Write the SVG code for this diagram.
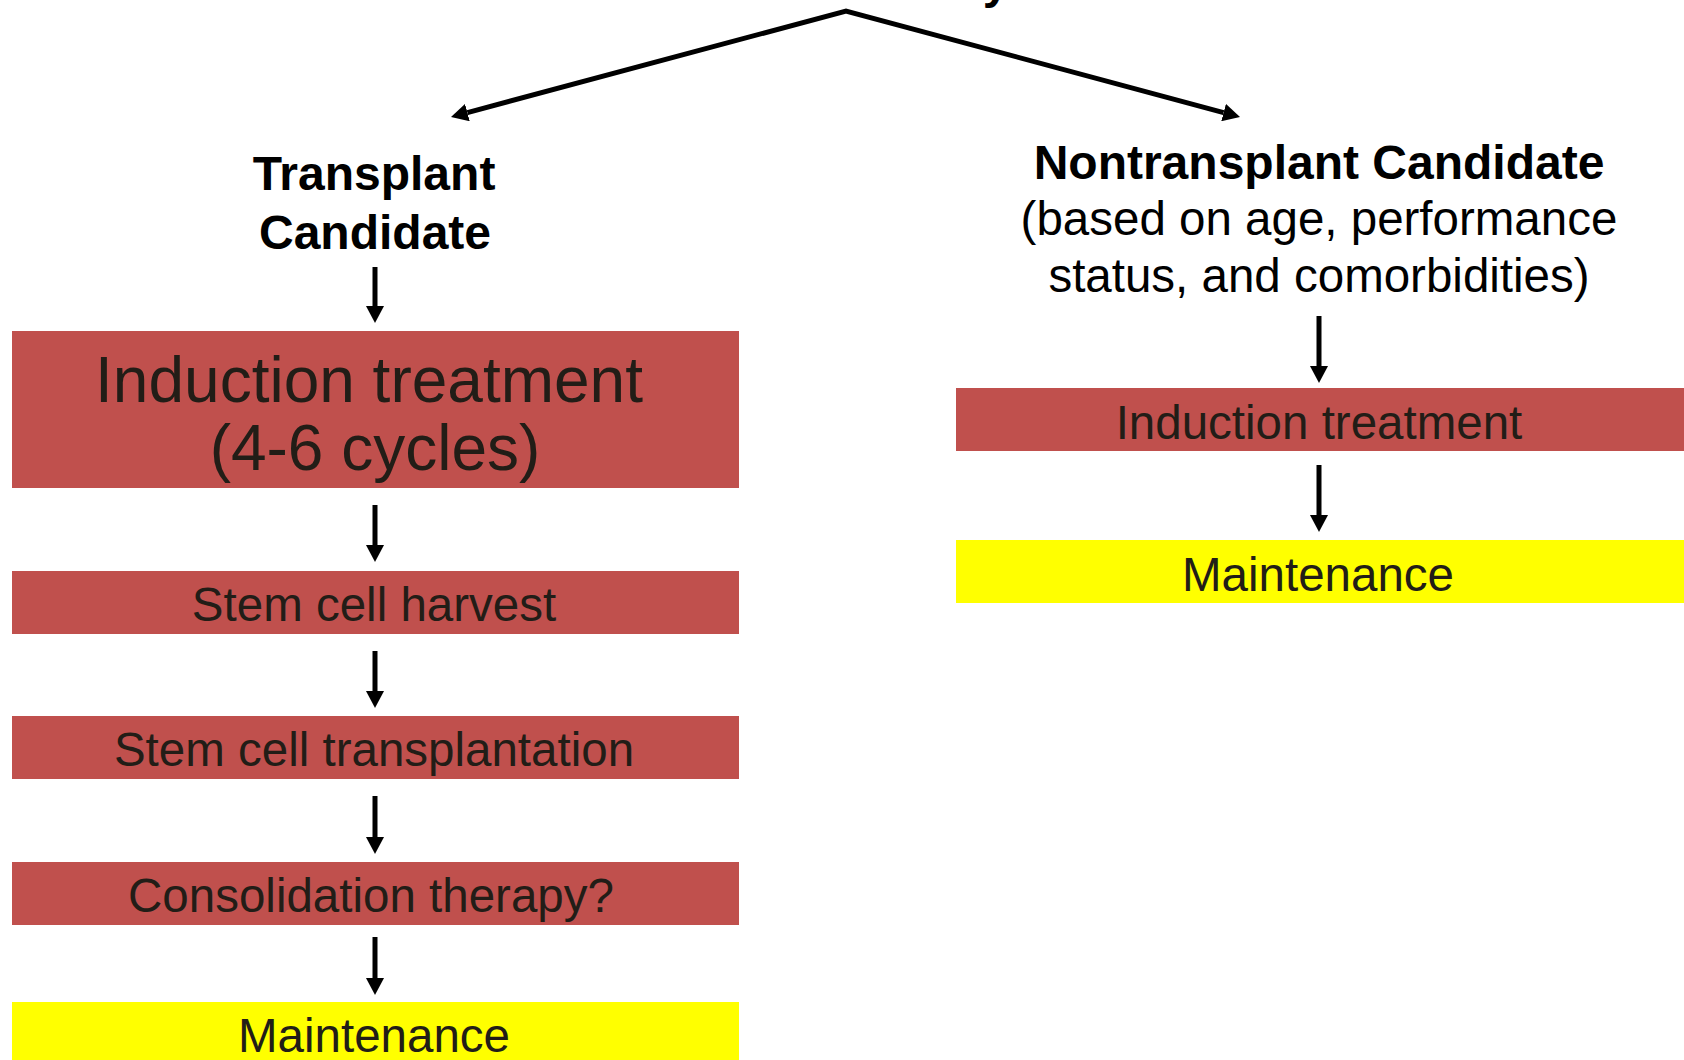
<svg xmlns="http://www.w3.org/2000/svg" width="1684" height="1060" viewBox="0 0 1684 1060">
  <defs>
    <style>
      .box-red { fill: #C0504D; }
      .box-yellow { fill: #FFFF00; }
      .lbl { font-family: "Liberation Sans", Arial, sans-serif; font-weight: bold; font-size: 48px; fill: #000; text-anchor: middle; }
      .note { font-family: "Liberation Sans", Arial, sans-serif; font-size: 47.5px; fill: #000; text-anchor: middle; }
      .step { font-family: "Liberation Sans", Arial, sans-serif; font-size: 47.5px; fill: #221D17; text-anchor: middle; }
      .step-big { font-family: "Liberation Sans", Arial, sans-serif; font-size: 64px; fill: #221D17; text-anchor: middle; }
      .conn { stroke: #000; stroke-width: 5; fill: none; marker-end: url(#head); }
    </style>
    <marker id="head" markerUnits="userSpaceOnUse" markerWidth="18" markerHeight="18" refX="0" refY="9" orient="auto-start-reverse">
      <path d="M0,0 L17,9 L0,18 z" fill="#000"/>
    </marker>
  </defs>

  <rect width="1684" height="1060" fill="#fff"/>

  <!-- descender of the heading line, cropped by the top edge -->
  <text class="lbl" x="996" y="-2">y</text>

  <!-- branch labels -->
  <g id="transplant-candidate">
    <text class="lbl" x="374" y="190">Transplant</text>
    <text class="lbl" x="375" y="249">Candidate</text>
  </g>
  <g id="nontransplant-candidate">
    <text class="lbl" x="1319" y="179">Nontransplant Candidate</text>
    <text class="note" x="1319" y="235">(based on age, performance</text>
    <text class="note" x="1319" y="292">status, and comorbidities)</text>
  </g>

  <!-- transplant pathway -->
  <g id="induction-4-6">
    <rect class="box-red" x="12" y="331" width="727" height="157"/>
    <text class="step-big" x="369" y="402">Induction treatment</text>
    <text class="step-big" x="375" y="470">(4-6 cycles)</text>
  </g>
  <g id="stem-cell-harvest">
    <rect class="box-red" x="12" y="571" width="727" height="63"/>
    <text class="step" x="374" y="621">Stem cell harvest</text>
  </g>
  <g id="stem-cell-transplantation">
    <rect class="box-red" x="12" y="716" width="727" height="63"/>
    <text class="step" x="374" y="766">Stem cell transplantation</text>
  </g>
  <g id="consolidation">
    <rect class="box-red" x="12" y="862" width="727" height="63"/>
    <text class="step" x="371" y="912">Consolidation therapy?</text>
  </g>
  <g id="maintenance-transplant">
    <rect class="box-yellow" x="12" y="1002" width="727" height="63"/>
    <text class="step" x="374" y="1052">Maintenance</text>
  </g>

  <!-- nontransplant pathway -->
  <g id="induction-nontransplant">
    <rect class="box-red" x="956" y="388" width="728" height="63"/>
    <text class="step" x="1319" y="439">Induction treatment</text>
  </g>
  <g id="maintenance-nontransplant">
    <rect class="box-yellow" x="956" y="540" width="728" height="63"/>
    <text class="step" x="1318" y="591">Maintenance</text>
  </g>

  <!-- connectors -->
  <g id="connectors">
    <path class="conn" style="marker-start: url(#head); stroke-linejoin: miter" d="M467.4,112.6 L846,11 L1223.6,112.6"/>
    <line class="conn" x1="375" y1="267" x2="375" y2="306"/>
    <line class="conn" x1="375" y1="505" x2="375" y2="545"/>
    <line class="conn" x1="375" y1="651" x2="375" y2="691"/>
    <line class="conn" x1="375" y1="796" x2="375" y2="837"/>
    <line class="conn" x1="375" y1="937" x2="375" y2="978"/>
    <line class="conn" x1="1319" y1="316" x2="1319" y2="366"/>
    <line class="conn" x1="1319" y1="465" x2="1319" y2="515"/>
  </g>
</svg>
